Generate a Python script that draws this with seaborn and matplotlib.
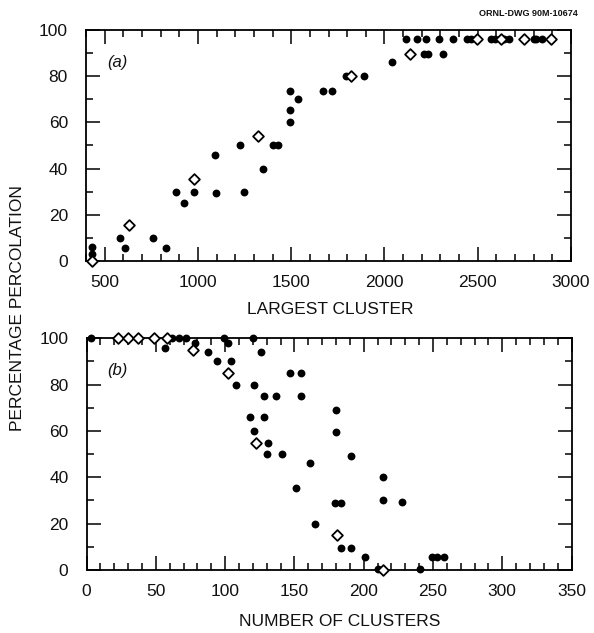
import numpy as np
import pandas as pd
import matplotlib
matplotlib.use("Agg")
import matplotlib.pyplot as plt
import seaborn as sns
from matplotlib.ticker import MultipleLocator

# ---------------- data ----------------
# panel (a): largest cluster vs percentage percolation
a_filled_x = [430, 430, 580, 607, 758, 831, 880, 927, 977, 1093, 1098, 1224, 1247,
              1351, 1405, 1431, 1493, 1493, 1493, 1536, 1669, 1719, 1795, 1890,
              2041, 2212, 2236, 2312,
              2116, 2173, 2223, 2294, 2365, 2440, 2465, 2570, 2595, 2640, 2670,
              2800, 2815, 2845]
a_filled_y = [6, 3, 10, 5.5, 10, 5.5, 30, 25, 30, 46, 29.5, 50, 30,
              40, 50, 50, 73.5, 65.5, 60, 70, 73.5, 73.5, 80, 80,
              86, 89.5, 89.5, 89.5,
              96, 96, 96, 96, 96, 96, 96, 96, 96, 96, 96,
              96, 96, 96]
a_open_x = [430, 633, 977, 1322, 1821, 2136, 2497, 2625, 2750, 2894]
a_open_y = [0, 15.5, 35.5, 54, 80, 89.5, 96, 96, 96, 96]

# panel (b): number of clusters vs percentage percolation
b_filled_x = [3, 57, 62, 67, 72, 78, 88, 94, 99, 102, 104, 108, 120, 121, 126,
              118, 128, 121, 131, 130, 128, 137, 141, 147, 155, 155, 151, 161,
              165, 180, 180, 191, 179, 184, 184, 191, 201, 214, 214, 228, 210,
              241, 249, 253, 258]
b_filled_y = [100, 96, 100, 100, 100, 98, 94, 90, 100, 98, 90, 80, 100, 80, 94,
              66, 66, 60, 55, 50, 75, 75, 50, 85, 85, 75, 35.5, 46,
              20, 69, 59.5, 49, 29, 29, 9.6, 9.6, 5.5, 40, 30, 29.5, 0.5,
              0.4, 5.5, 5.5, 5.5]
b_open_x = [23, 30, 37, 49, 58, 77, 102, 122, 181, 214]
b_open_y = [100, 100, 100, 100, 100, 95, 85, 55, 15, 0]

# ---------------- style ----------------
sns.set_style("ticks")
plt.rcParams["font.family"] = ["Liberation Sans", "DejaVu Sans"]

fig = plt.figure(figsize=(5.94, 6.33), dpi=100)
ax_a = fig.add_axes([86 / 594, 1 - 261 / 633, 485 / 594, 231 / 633])
ax_b = fig.add_axes([86.5 / 594, 1 - 570 / 633, 485 / 594, 231.7 / 633])


def draw(ax, fx, fy, ox, oy, xlim, xmaj, xmin, tag):
    dff = pd.DataFrame({"x": fx, "y": fy})
    dfo = pd.DataFrame({"x": ox, "y": oy})
    sns.scatterplot(data=dff, x="x", y="y", ax=ax, marker="o", s=32,
                    color="black", edgecolor="black", linewidth=0,
                    clip_on=False, zorder=3)
    sns.scatterplot(data=dfo, x="x", y="y", ax=ax, marker="D", s=30,
                    facecolor="white", edgecolor="black", linewidth=1.3,
                    clip_on=False, zorder=4)
    ax.set_xlim(*xlim)
    ax.set_ylim(0, 100)
    ax.xaxis.set_major_locator(MultipleLocator(xmaj))
    ax.xaxis.set_minor_locator(MultipleLocator(xmin))
    ax.yaxis.set_major_locator(MultipleLocator(20))
    ax.yaxis.set_minor_locator(MultipleLocator(10))
    ax.tick_params(which="both", direction="in", top=True, right=True,
                   width=1.1, color="black", labelsize=12.5, labelcolor="#111111")
    ax.tick_params(which="major", length=10)
    ax.tick_params(which="minor", length=5)
    ax.tick_params(axis="y", which="major", pad=13)
    ax.tick_params(axis="x", which="major", pad=10)
    for sp in ax.spines.values():
        sp.set_linewidth(1.3)
        sp.set_color("black")
    ax.set_xlabel("")
    ax.set_ylabel("")
    ax.text(0.064, 0.86, tag, transform=ax.transAxes, fontsize=12,
            style="italic", ha="center", va="center", color="#111111")


draw(ax_a, a_filled_x, a_filled_y, a_open_x, a_open_y, (400, 3000), 500, 100, "(a)")
draw(ax_b, b_filled_x, b_filled_y, b_open_x, b_open_y, (0, 350), 50, 10, "(b)")

fig.text(330 / 594, 1 - 310 / 633, "LARGEST CLUSTER", ha="center", va="center",
         fontsize=12.5, color="#111111")
fig.text(340 / 594, 1 - 621 / 633, "NUMBER OF CLUSTERS", ha="center", va="center",
         fontsize=12.5, color="#111111")
fig.text(18 / 594, 1 - 308 / 633, "PERCENTAGE PERCOLATION", ha="center",
         va="center", rotation=90, fontsize=12.5, color="#111111")
fig.text(578 / 594, 1 - 13.5 / 633, "ORNL-DWG 90M-10674", ha="right",
         va="center", fontsize=6.5, fontweight="bold", color="#111111")

fig.savefig("out.png", dpi=100, facecolor="white")
